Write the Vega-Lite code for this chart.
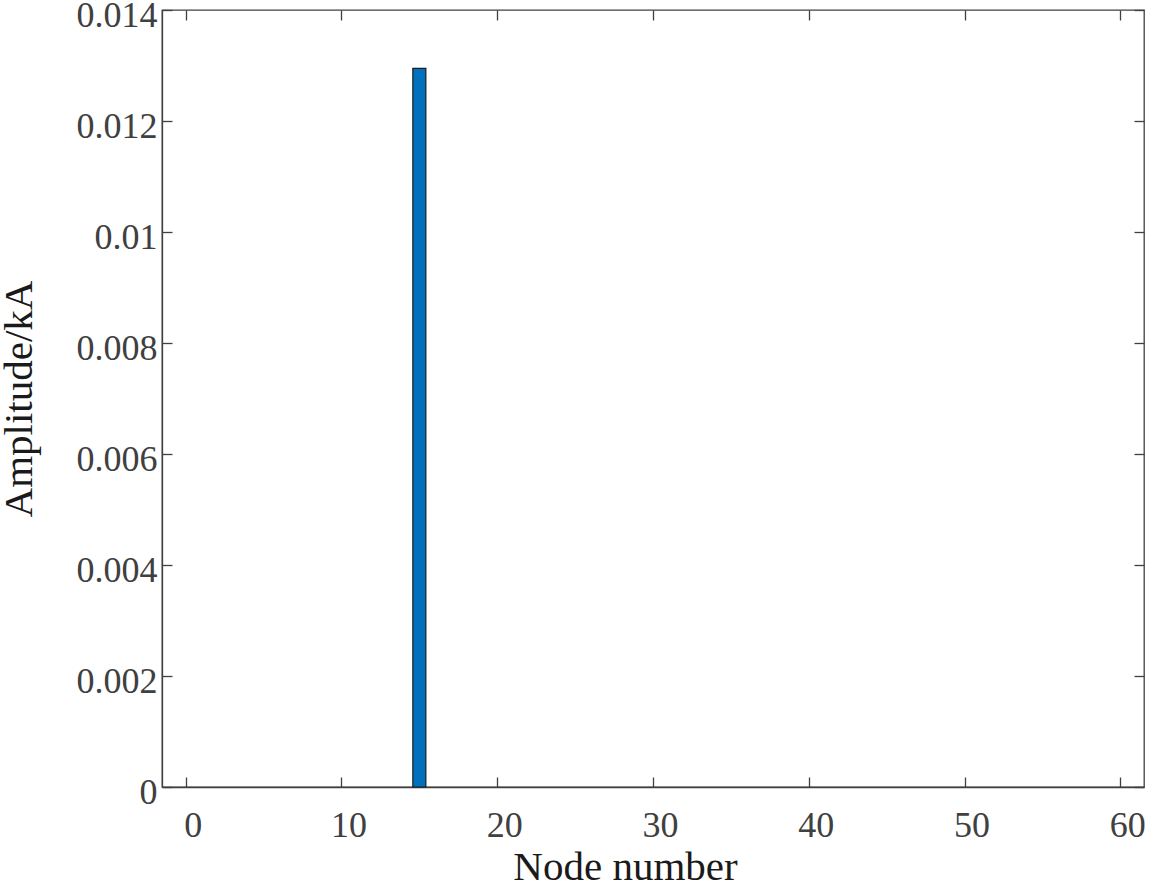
{
  "$schema": "https://vega.github.io/schema/vega-lite/v6.json",
  "width": 982,
  "height": 777,
  "autosize": {"type": "none"},
  "padding": {"left": 162, "top": 10, "right": 11, "bottom": 99},
  "background": "white",
  "config": {
    "font": "Liberation Serif",
    "view": {"stroke": "#404040", "strokeWidth": 1.3},
    "axis": {
      "domainColor": "#404040",
      "domainWidth": 1.3,
      "tickColor": "#404040",
      "tickWidth": 1.3,
      "tickSize": -10,
      "labelColor": "#404040",
      "labelFont": "Liberation Serif",
      "labelFontSize": 36,
      "titleFont": "Liberation Serif",
      "titleFontSize": 41,
      "titleFontWeight": "normal",
      "titleColor": "#1a1a1a",
      "grid": false
    }
  },
  "data": {"values": [
    {"node": 15, "amplitude": 0.01295}
  ]},
  "layer": [
    {
      "mark": {"type": "bar", "width": 13, "fill": "#0072BD", "stroke": "#1a1a1a", "strokeWidth": 1.2},
      "encoding": {
        "x": {
          "field": "node", "type": "quantitative",
          "scale": {"domain": [-1.2, 61.2], "nice": false, "zero": false},
          "axis": {"orient": "bottom", "title": "Node number", "values": [0, 10, 20, 30, 40, 50, 60], "labelPadding": 31, "labelOffset": 7, "titlePadding": 4, "titleX": 463, "labelFlush": false}
        },
        "y": {
          "field": "amplitude", "type": "quantitative",
          "scale": {"domain": [0, 0.014], "nice": false},
          "axis": {"orient": "left", "title": "Amplitude/kA", "values": [0, 0.002, 0.004, 0.006, 0.008, 0.01, 0.012, 0.014], "format": ".3~f", "labelPadding": 15, "labelOffset": 5, "titlePadding": 36, "labelFlush": false}
        }
      }
    },
    {
      "mark": {"type": "point", "opacity": 0},
      "encoding": {
        "x": {
          "field": "node", "type": "quantitative",
          "axis": {"orient": "top", "title": null, "labels": false, "domain": false, "values": [0, 10, 20, 30, 40, 50, 60]}
        },
        "y": {
          "field": "amplitude", "type": "quantitative",
          "axis": {"orient": "right", "title": null, "labels": false, "domain": false, "values": [0, 0.002, 0.004, 0.006, 0.008, 0.01, 0.012, 0.014]}
        }
      }
    }
  ],
  "resolve": {"axis": {"x": "independent", "y": "independent"}}
}
